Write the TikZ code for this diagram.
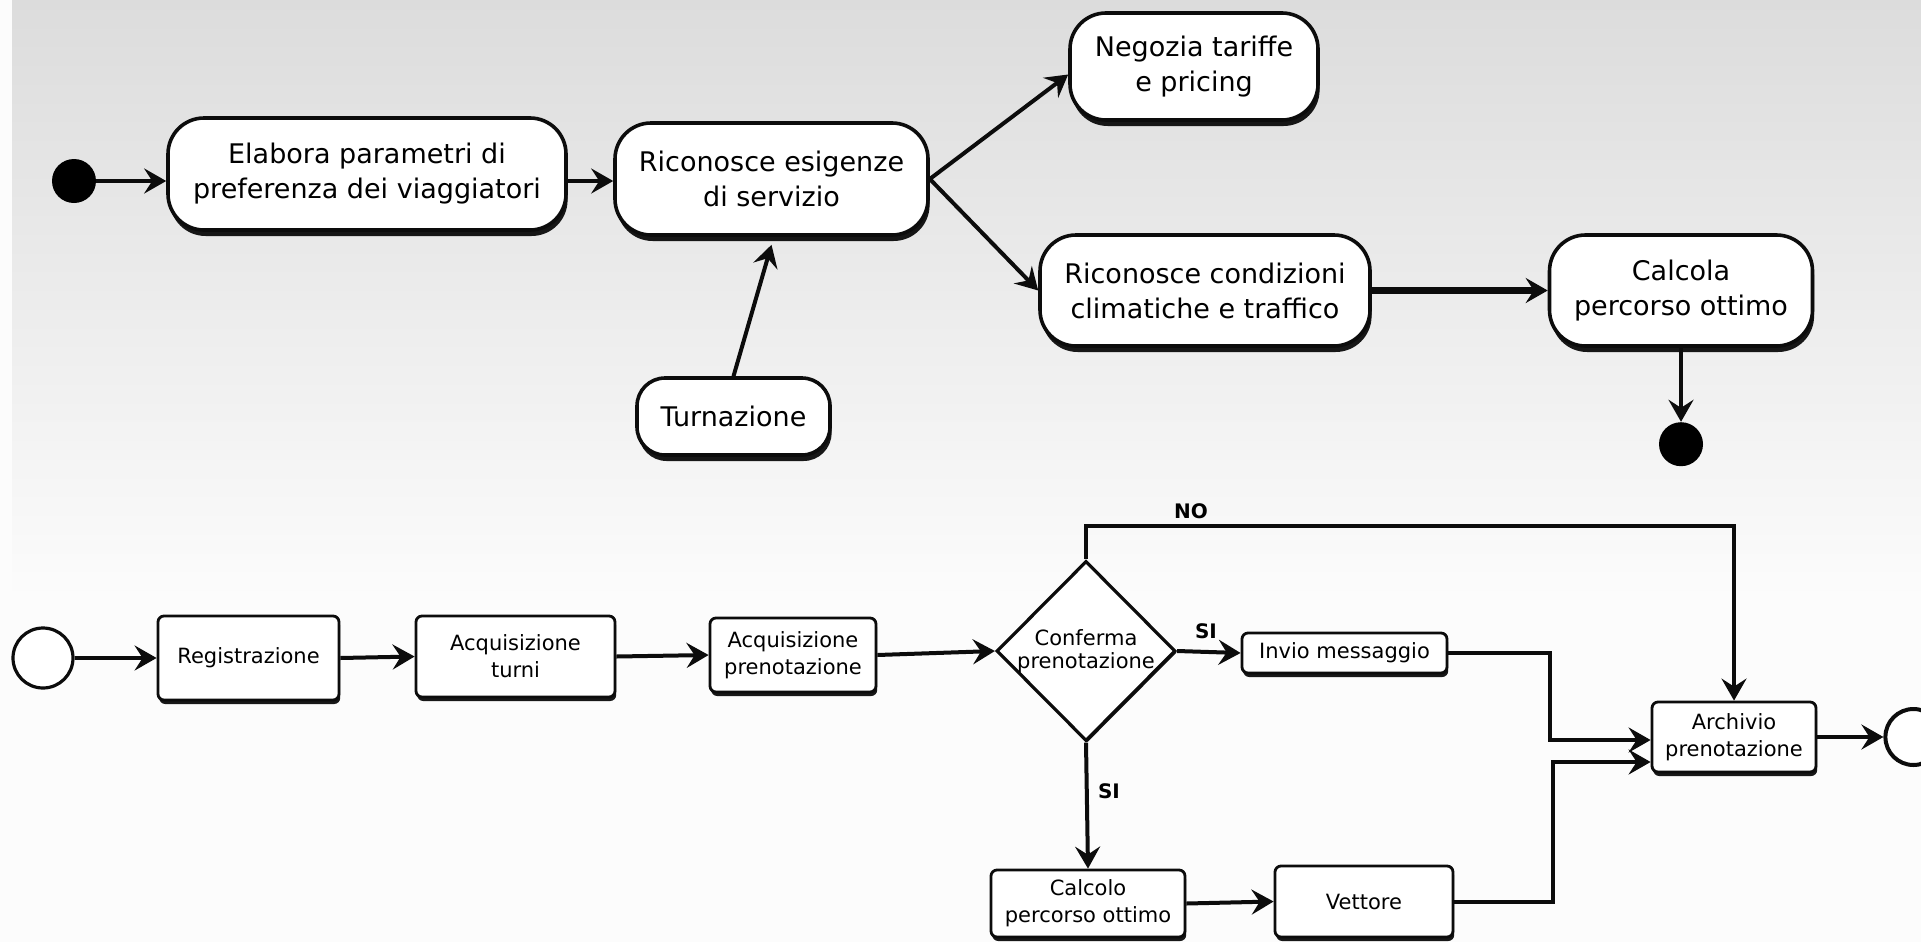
\documentclass[tikz,border=0pt]{standalone}
\usepackage{fontspec}
\setmainfont{DejaVu Sans}
\usetikzlibrary{positioning}
\usetikzlibrary{arrows.meta}
\usetikzlibrary{shapes.geometric}
\usetikzlibrary{shadows}
\definecolor{figSfondoAlto}{RGB}{220,220,220}
\definecolor{figBianco}{RGB}{252,252,252}
\definecolor{figBordo}{RGB}{12,12,12}
\tikzset{
  attivita/.style={
    rectangle, rounded corners=18pt, draw=figBordo, line width=1.8pt,
    fill=white, align=center, inner sep=0pt,
    font=\fontsize{13.5}{17.5}\selectfont,
    drop shadow={shadow xshift=0.8pt, shadow yshift=-3pt, opacity=0.9, fill=black}
  },
  passo/.style={
    rectangle, rounded corners=3pt, draw=figBordo, line width=1.4pt,
    fill=white, align=center, inner sep=0pt,
    font=\fontsize{10.5}{13.5}\selectfont,
    drop shadow={shadow xshift=0.6pt, shadow yshift=-2pt, opacity=0.9, fill=black}
  },
  decisione/.style={
    diamond, draw=figBordo, line width=1.6pt, fill=white, inner sep=0pt,
    drop shadow={shadow xshift=0.8pt, shadow yshift=-0.8pt, opacity=0.9, fill=black}
  },
  pieno/.style={circle, fill=black, minimum size=22pt, inner sep=0pt},
  vuoto/.style={circle, draw=figBordo, line width=1.6pt, fill=white, minimum size=30pt, inner sep=0pt},
  freccia/.style={-{Stealth[length=11pt, width=12.5pt, inset=4pt]}, line width=2pt, draw=figBordo},
  etichetta/.style={font=\bfseries\fontsize{10}{12}\selectfont, inner sep=0pt}
}
\begin{document}
\begin{tikzpicture}[x=0.5pt, y=-0.5pt]
  \useasboundingbox (0,0) rectangle (1921,942);
  \clip (0,0) rectangle (1921,942);
  \fill[figBianco] (0,0) rectangle (1921,942);
  \shade[top color=figSfondoAlto, bottom color=figBianco] (12,0) rectangle (1921,600);

  \node[pieno] (avvio) at (74,181) {};
  \node[attivita, minimum width=199pt, minimum height=56pt] (elab) at (367,174) {Elabora parametri di\\preferenza dei viaggiatori};
  \node[attivita, minimum width=156.5pt, minimum height=56pt] (ric) at (771.5,179) {Riconosce esigenze\\di servizio};
  \node[attivita, minimum width=124pt, minimum height=53.5pt] (neg) at (1194,66.5) {Negozia tariffe\\e pricing};
  \node[attivita, minimum width=165pt, minimum height=55.5pt] (cond) at (1205,290.5) {Riconosce condizioni\\climatiche e traffico};
  \node[attivita, minimum width=131.5pt, minimum height=55.5pt] (calc) at (1681,290.5) {Calcola\\percorso ottimo};
  \node[attivita, rounded corners=14pt, minimum width=96.5pt, minimum height=38.5pt] (turn) at (733.5,416.5) {Turnazione};
  \node[pieno, below=37pt of calc] (stop) {};

  \draw[freccia] (avvio) -- (avvio -| elab.west);
  \draw[freccia] (elab.east |- avvio) -- (ric.west |- avvio);
  \draw[freccia] (ric.east) -- ([yshift=-4pt]neg.west);
  \draw[freccia] (ric.east) -- (cond.west);
  \draw[freccia, line width=3.5pt] (cond.east) -- (calc.west);
  \draw[freccia] (calc.south) -- (stop.north);
  \draw[freccia] (turn.north) -- ([yshift=-4pt]ric.south);

  \node[vuoto] (inizio) at (43,658) {};
  \node[passo, minimum width=90.5pt, minimum height=42pt] (reg) at (248.5,658) {Registrazione};
  \node[passo, minimum width=99.5pt, minimum height=40.5pt] (acqt) at (515.5,656.5) {Acquisizione\\turni};
  \node[passo, minimum width=83pt, minimum height=37pt] (acqp) at (793,655) {Acquisizione\\prenotazione};
  \node[decisione, minimum width=89.5pt, minimum height=90pt,
    label={[font=\fontsize{10.5}{11.5}\selectfont, align=center]center:Conferma\\prenotazione}] (dec) at (1086,651) {};
  \node[passo, minimum width=102.5pt, minimum height=20pt] (inv) at (1344.5,653) {Invio messaggio};
  \node[passo, minimum width=82pt, minimum height=35pt] (arc) at (1734,737) {Archivio\\prenotazione};
  \node[passo, minimum width=97pt, minimum height=33.5pt] (calcolo) at (1088,903.5) {Calcolo\\percorso ottimo};
  \node[passo, minimum width=89pt, minimum height=35.5pt] (vet) at (1364,901.5) {Vettore};
  \node[vuoto, line width=2pt, minimum size=28pt, right=33pt of arc] (fine) {};

  \draw[freccia] (inizio.east) -- (reg.west);
  \draw[freccia] (reg.east) -- (acqt.west);
  \draw[freccia] (acqt.east) -- (acqp.west);
  \draw[freccia] (acqp.east) -- (dec.west);
  \draw[freccia] (dec.north) -- ++(0,-33) -| (arc.north);
  \draw[freccia] (dec.east) -- (inv.west);
  \draw[freccia] (inv.east) -| ([xshift=-50.5pt, yshift=-1.5pt]arc.west) -- ([yshift=-1.5pt]arc.west);
  \draw[freccia] (dec.south) -- (calcolo.north);
  \draw[freccia] (calcolo.east) -- (vet.west);
  \draw[freccia] (vet.east) -| ([xshift=-49pt, yshift=-12.5pt]arc.west) -- ([yshift=-12.5pt]arc.west);
  \draw[freccia] (arc.east) -- (fine.west);

  \node[etichetta] (no) at (1191,511) {NO};
  \node[etichetta] (si1) at (1206,631) {SI};
  \node[etichetta] (si2) at (1109,791) {SI};
\end{tikzpicture}
\end{document}
